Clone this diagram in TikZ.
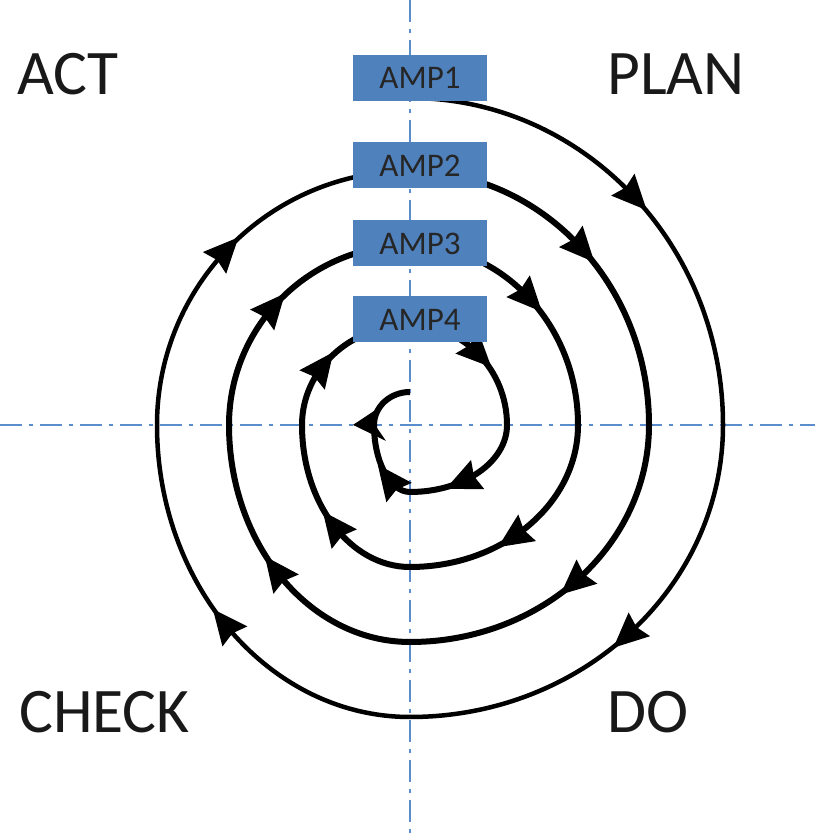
\documentclass[tikz,border=0pt]{standalone}
\usepackage{fontspec}
\setmainfont{Carlito}
\usetikzlibrary{decorations.markings,calc}
\definecolor{officeblue}{HTML}{4F81BD}
\definecolor{axisblue}{HTML}{5B8DCC}
\begin{document}
\begin{tikzpicture}[x=1pt,y=1pt,
  axisline/.style={draw=axisblue, line width=2pt,
    dash pattern=on 22pt off 7pt on 4pt off 7pt},
  ampbox/.style={fill=officeblue, minimum width=134pt, minimum height=46pt,
    inner sep=0pt, font=\fontsize{33}{33}\selectfont, text=black!85},
  phase/.style={font=\fontsize{63.5}{64}\selectfont, anchor=base west,
    inner sep=0pt, text=black!90},
  % a filled triangular head laid along the path, tip forward
  headat/.style={postaction={decorate}, decoration={markings,
    mark=at position #1 with {\fill (19,0) -- (-16,16) -- (-12,0) -- (-16,-16) -- cycle;}}}
]
\useasboundingbox (0,0) rectangle (815,840);

% centre of the cycle and the two dash-dot axes
\coordinate (c) at (410,415);
\coordinate (axW) at (0,415);
\coordinate (axE) at (815,415);
\coordinate (axN) at (410,840);
\coordinate (axS) at (410,0);
\draw[axisline] (axW) -- (axE);
\draw[axisline] (axN) -- (axS);

% inward clockwise spiral, one quarter-ellipse at a time:
% start angle / x radius / y radius / head position / line width
\foreach \a/\rx/\ry/\p/\w in {
   90/313/327/0.50/4.5,   0/313/292/0.50/4.5, -90/253/292/0.50/4.5, -180/253/254/0.48/4.5,
   90/239/254/0.50/6,     0/239/217/0.50/6,   -90/181/217/0.50/6,   -180/181/180/0.45/6,
   90/168/180/0.49/6,     0/168/142/0.55/6,   -90/108/142/0.45/6,   -180/108/100/0.38/6,
   90/97/100/0.49/6,      0/97/67/0.58/6,     -90/36/67/0.30/6}
{
  \draw[line width=\w pt, headat=\p]
    ($(c)+({cos(\a)*\rx},{sin(\a)*\ry})$)
    arc[start angle=\a, end angle=\a-90, x radius=\rx, y radius=\ry];
}
% last quarter, ending at the centre, with its head turned outwards
\draw[line width=6pt, postaction={decorate}, decoration={markings,
    mark=at position 0.001 with {\fill (0,21) -- (18,-6) -- (0,-1) -- (-16,-12) -- cycle;}}]
  ($(c)+(-36,0)$)
  arc[start angle=-180, end angle=-270, x radius=36, y radius=33];

% the four stages
\node[ampbox] (amp1) at (420,762)   {AMP1};
\node[ampbox] (amp2) at (420,674.5) {AMP2};
\node[ampbox] (amp3) at (420,596.5) {AMP3};
\node[ampbox] (amp4) at (420,520.5) {AMP4};

% quadrant labels
\node[phase] (act)   at (17,745)  {ACT};
\node[phase] (plan)  at (607,745) {PLAN};
\node[phase] (check) at (19,107)  {CHECK};
\node[phase] (do)    at (607,107) {DO};
\end{tikzpicture}
\end{document}
